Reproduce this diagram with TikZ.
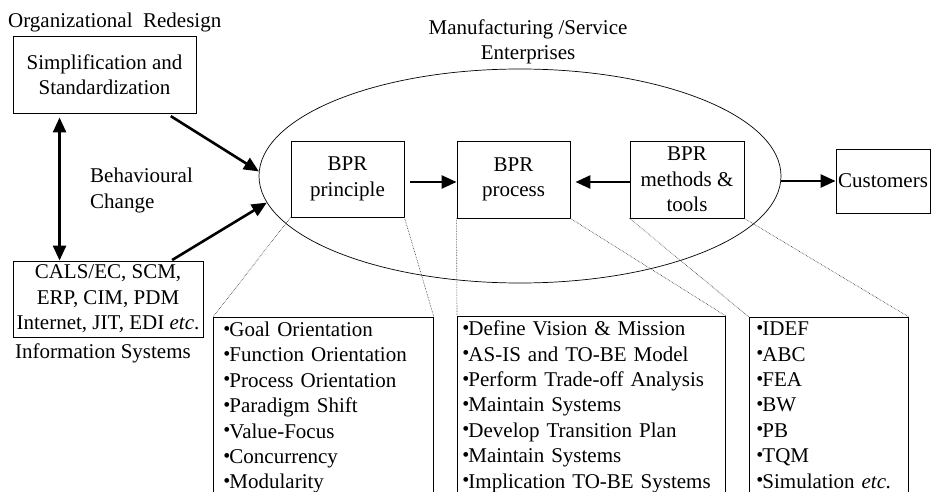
\documentclass[tikz,border=0pt]{standalone}
\usepackage{fontspec}
\setmainfont{Liberation Serif}
\usetikzlibrary{arrows.meta, calc, shapes.geometric}

\tikzset{
  box/.style={draw, line width=0.9pt, inner sep=1pt, align=center},
  lbl/.style={inner sep=0pt},
  listbox/.style={draw, line width=0.9pt, anchor=north west, align=left, inner ysep=4.5pt, text depth=180pt},
  bigarrow/.style={line width=2.6pt, -{Triangle[length=15pt,width=13pt]}},
  dblarrow/.style={line width=2.6pt, {Triangle[length=15pt,width=13pt]}-{Triangle[length=15pt,width=13pt]}},
  zoomline/.style={densely dotted, line width=0.6pt, black!85},
}
\newcommand{\bul}{\raisebox{1.5pt}{\fontsize{20}{20}\selectfont\textbullet}\hspace{-1pt}}

\begin{document}
\begin{tikzpicture}[x=1pt, y=-1pt, font=\fontsize{21}{25.4}\selectfont]
    \useasboundingbox (0,0) rectangle (932,492);
    \clip (0,0) rectangle (932,492);

    % left column
    \node[lbl, anchor=west] (orglbl) at (8,22) {Organizational\hspace{0.25em} Redesign};
    \node[box, minimum width=183pt, minimum height=77pt] (simp) at (104.5,74.5) {Simplification and\\Standardization};
    \node[box, minimum width=190pt, minimum height=76pt] (cals) at (108,299) {CALS/EC, SCM,\\ERP, CIM, PDM\\Internet, JIT, EDI \textit{etc}.};
    \node[lbl, anchor=west] (infolbl) at (15,353) {Information Systems};
    \node[lbl, anchor=west, align=left] (behav) at (90,190.5) {Behavioural\\Change};

    \coordinate (vtop) at ($(simp.south west)+(47,0)$);
    \draw[dblarrow, shorten <=4pt] (vtop) -- (vtop |- cals.north);

    % enterprise
    \node[lbl, align=center] (entlbl) at (528,42) {Manufacturing /Service\\Enterprises};
    \node[draw, ellipse, line width=0.7pt, inner sep=0pt, minimum width=522pt, minimum height=214pt] (ent) at (520,176) {};

    \node[box, minimum width=113pt, minimum height=76pt] (princ) at (347.5,179) {BPR\\principle};
    \node[box, minimum width=113pt, minimum height=77pt] (proc) at (513.5,179.5) {BPR\\process};
    \node[box, minimum width=114pt, minimum height=77pt] (meth) at (687,179.5) {BPR\\methods \&\\tools};
    \node[box, minimum width=94pt, minimum height=64pt] (cust) at (883,181) {Customers};

    \draw[bigarrow, shorten <=5pt] (simp) -- (ent.179);
    \draw[bigarrow, shorten <=1pt] (cals) -- (ent.186.5);
    \draw[bigarrow, shorten <=6pt] ([yshift=-3pt]princ.east) -- ([yshift=-2.5pt]proc.west);
    \draw[bigarrow, shorten >=5pt] ([yshift=-2.5pt]meth.west) -- ([yshift=-2.5pt]proc.east);
    \draw[bigarrow] (ent.east |- cust.west) -- (cust.west);

    % detail lists
    \node[listbox, text width=200pt, inner xsep=10pt] (plist) at (213,317)
        {\bul Goal Orientation\\\bul Function Orientation\\\bul Process Orientation\\\bul Paradigm Shift\\\bul Value-Focus\\\bul Concurrency\\\bul Modularity};
    \node[listbox, text width=258pt, inner xsep=5pt] (prlist) at (457,316)
        {\bul Define Vision \& Mission\\\bul AS-IS and TO-BE Model\\\bul Perform Trade-off Analysis\\\bul Maintain Systems\\\bul Develop Transition Plan\\\bul Maintain Systems\\\bul Implication TO-BE Systems};
    \node[listbox, text width=145pt, inner xsep=7pt] (mlist) at (749,317)
        {\bul IDEF\\\bul ABC\\\bul FEA\\\bul BW\\\bul PB\\\bul TQM\\\bul Simulation \textit{etc.}};

    \draw[zoomline] (princ.south west) -- (plist.north west);
    \draw[zoomline] (princ.south east) -- (plist.north east);
    \draw[zoomline] (proc.south west) -- (prlist.north west);
    \draw[zoomline] (proc.south east) -- (prlist.north east);
    \draw[zoomline] (meth.south west) -- (mlist.north west);
    \draw[zoomline] (meth.south east) -- (mlist.north east);
\end{tikzpicture}
\end{document}
